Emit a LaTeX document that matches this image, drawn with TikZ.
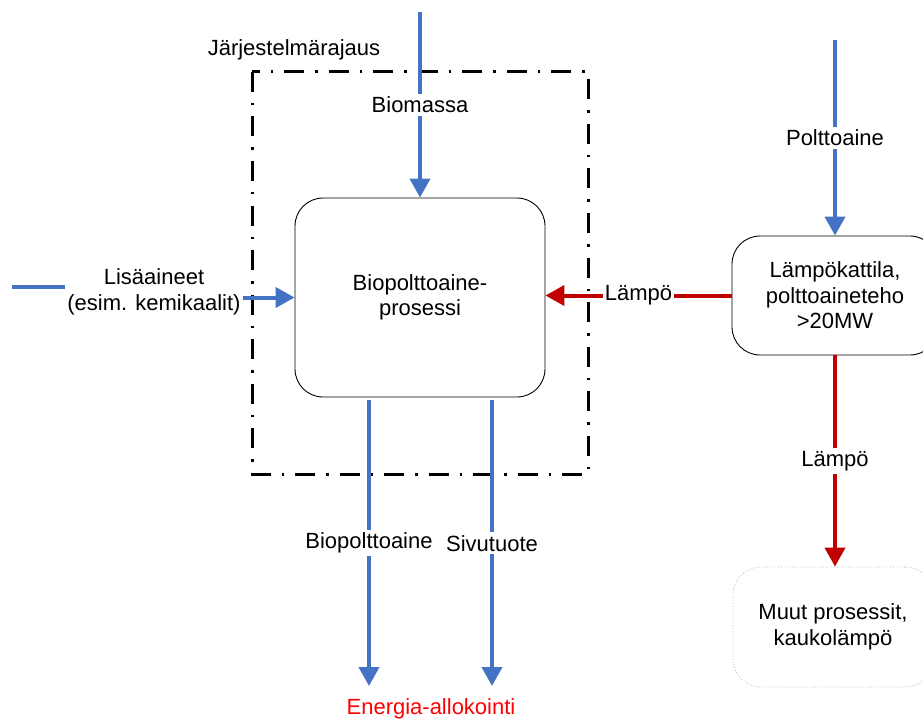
\documentclass[tikz,border=0pt]{standalone}
\usepackage{fontspec}
\setmainfont{Liberation Sans}
\usetikzlibrary{arrows.meta}
\definecolor{flowblue}{RGB}{68,114,196}
\definecolor{heatred}{RGB}{192,0,0}
\begin{document}
\begin{tikzpicture}[x=1pt,y=-1pt,
  every node/.style={font=\fontsize{22}{25.5}\selectfont, align=center, inner sep=2pt},
  procbox/.style={draw=black, line width=0.9pt, rounded corners=28pt},
  ghostbox/.style={draw=black!30, dotted, line width=0.8pt, rounded corners=28pt},
  blueflow/.style={draw=flowblue, line width=4pt, -{Triangle[length=19pt,width=20pt]}},
  blueline/.style={draw=flowblue, line width=4pt},
  redflow/.style={draw=heatred, line width=4pt, -{Triangle[length=19pt,width=20pt]}},
  flowlabel/.style={fill=white, inner sep=3pt},
  sysbound/.style={draw=black, line width=3pt, dash pattern=on 20pt off 11pt on 2.5pt off 11pt}
]
\useasboundingbox (0,0) rectangle (923,722);

% system boundary
\draw[sysbound] (252,72) rectangle (588,474);
\node (sysl) at (294,50) {Järjestelmärajaus};

% nodes
\node[procbox, minimum width=250pt, minimum height=199pt] (main) at (420,297.5) {Biopolttoaine-\\prosessi};
\node[procbox, minimum width=206pt, minimum height=119pt] (kattila) at (835,295.5) {Lämpökattila,\\polttoaineteho\\>20MW};
\node[ghostbox, minimum width=200pt, minimum height=120pt] (muut) at (833,627) {Muut prosessit,\\kaukolämpö};

% coordinates
\coordinate (bmsrc) at (420,12);
\coordinate (ptsrc) at (835,40);
\coordinate (lisrc) at (12,287);
\coordinate (bpend) at (369,686);
\coordinate (svend) at (492,686);
\path (bpend |- main.south) ++(0,3) coordinate (bpstart);
\path (svend |- main.south) ++(0,3) coordinate (svstart);

% Biomassa
\draw[blueflow] (bmsrc) -- (main.north) node[midway, flowlabel] (bmlab) {Biomassa};
% Polttoaine
\draw[blueflow] (ptsrc) -- (kattila.north) node[midway, flowlabel] (ptlab) {Polttoaine};

% Lisaaineet
\node (lilab) at (154,292) {Lisäaineet\\(esim. kemikaalit)};
\draw[blueline] (lisrc) -- (lisrc -| lilab.west);
\draw[blueflow] (lilab.east |- main.west) -- (main.west);

% heat to process
\draw[redflow] (kattila.west) -- (main.east |- kattila.west) node[midway, flowlabel, inner sep=2pt] (hlab1) {Lämpö};
% heat down
\draw[redflow] (kattila.south) -- (kattila.south |- muut.north) node[midway, flowlabel] (hlab2) {Lämpö};

% outputs
\draw[blueflow] (bpstart) -- (bpend) node[midway, flowlabel] (bplab) {Biopolttoaine};
\draw[blueflow] (svstart) -- (svend) node[midway, flowlabel] (svlab) {Sivutuote};

\node[text=red] (ealloc) at (431,709) {Energia-allokointi};
\end{tikzpicture}
\end{document}
